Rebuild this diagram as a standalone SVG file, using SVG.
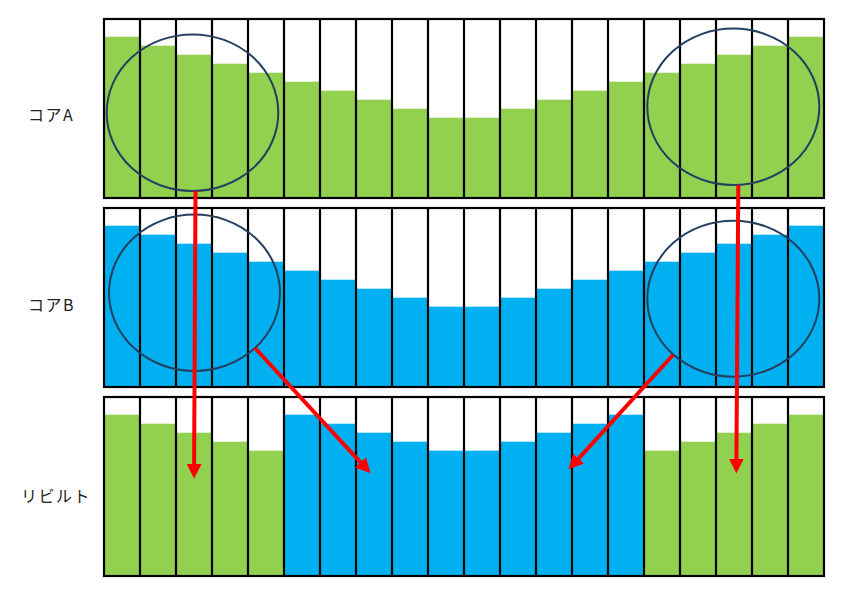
<svg xmlns="http://www.w3.org/2000/svg" xmlns:xlink="http://www.w3.org/1999/xlink" width="866" height="600" viewBox="0 0 866 600">
<style>
.g{fill:#92D050}
.b{fill:#00B0F0}
.frame{fill:none;stroke:#000;stroke-width:2.2}
.ell{fill:none;stroke:#243F60;stroke-width:2}
.arr{stroke:#FF0000;stroke-width:4;fill:none;marker-end:url(#ah)}
.lbl{font-family:"Noto Sans CJK JP","Noto Sans",sans-serif;font-size:16px;letter-spacing:1.5px;fill:#222}
</style>
<defs>
<marker id="ah" markerUnits="userSpaceOnUse" markerWidth="15" markerHeight="15" viewBox="0 0 14 14" refX="2" refY="7" orient="auto">
<path d="M0,0 L14,7 L0,14 z" fill="#FF0000"/>
</marker>
<g id="grid">
<rect class="frame" x="104" y="19" width="720" height="179"/>
<path class="frame" d="M140,19V198M176,19V198M212,19V198M248,19V198M284,19V198M320,19V198M356,19V198M392,19V198M428,19V198M464,19V198M500,19V198M536,19V198M572,19V198M608,19V198M644,19V198M680,19V198M716,19V198M752,19V198M788,19V198"/>
</g>
</defs>
<rect width="866" height="600" fill="#fff"/>
<g id="rowA">
<rect class="g" x="104" y="36.7" width="36" height="161.3"/>
<rect class="g" x="140" y="45.7" width="36" height="152.3"/>
<rect class="g" x="176" y="54.7" width="36" height="143.3"/>
<rect class="g" x="212" y="63.7" width="36" height="134.3"/>
<rect class="g" x="248" y="72.7" width="36" height="125.3"/>
<rect class="g" x="284" y="81.7" width="36" height="116.3"/>
<rect class="g" x="320" y="90.7" width="36" height="107.3"/>
<rect class="g" x="356" y="99.7" width="36" height="98.3"/>
<rect class="g" x="392" y="108.7" width="36" height="89.3"/>
<rect class="g" x="428" y="117.7" width="36" height="80.3"/>
<rect class="g" x="464" y="117.7" width="36" height="80.3"/>
<rect class="g" x="500" y="108.7" width="36" height="89.3"/>
<rect class="g" x="536" y="99.7" width="36" height="98.3"/>
<rect class="g" x="572" y="90.7" width="36" height="107.3"/>
<rect class="g" x="608" y="81.7" width="36" height="116.3"/>
<rect class="g" x="644" y="72.7" width="36" height="125.3"/>
<rect class="g" x="680" y="63.7" width="36" height="134.3"/>
<rect class="g" x="716" y="54.7" width="36" height="143.3"/>
<rect class="g" x="752" y="45.7" width="36" height="152.3"/>
<rect class="g" x="788" y="36.7" width="36" height="161.3"/>
<use xlink:href="#grid"/>
<text class="lbl" x="28" y="121">コアA</text>
</g>
<g id="rowB" transform="translate(0,189)">
<rect class="b" x="104" y="36.7" width="36" height="161.3"/>
<rect class="b" x="140" y="45.7" width="36" height="152.3"/>
<rect class="b" x="176" y="54.7" width="36" height="143.3"/>
<rect class="b" x="212" y="63.7" width="36" height="134.3"/>
<rect class="b" x="248" y="72.7" width="36" height="125.3"/>
<rect class="b" x="284" y="81.7" width="36" height="116.3"/>
<rect class="b" x="320" y="90.7" width="36" height="107.3"/>
<rect class="b" x="356" y="99.7" width="36" height="98.3"/>
<rect class="b" x="392" y="108.7" width="36" height="89.3"/>
<rect class="b" x="428" y="117.7" width="36" height="80.3"/>
<rect class="b" x="464" y="117.7" width="36" height="80.3"/>
<rect class="b" x="500" y="108.7" width="36" height="89.3"/>
<rect class="b" x="536" y="99.7" width="36" height="98.3"/>
<rect class="b" x="572" y="90.7" width="36" height="107.3"/>
<rect class="b" x="608" y="81.7" width="36" height="116.3"/>
<rect class="b" x="644" y="72.7" width="36" height="125.3"/>
<rect class="b" x="680" y="63.7" width="36" height="134.3"/>
<rect class="b" x="716" y="54.7" width="36" height="143.3"/>
<rect class="b" x="752" y="45.7" width="36" height="152.3"/>
<rect class="b" x="788" y="36.7" width="36" height="161.3"/>
<use xlink:href="#grid"/>
<text class="lbl" x="28" y="122">コアB</text>
</g>
<g id="rowR" transform="translate(0,378)">
<rect class="g" x="104" y="36.7" width="36" height="161.3"/>
<rect class="g" x="140" y="45.7" width="36" height="152.3"/>
<rect class="g" x="176" y="54.7" width="36" height="143.3"/>
<rect class="g" x="212" y="63.7" width="36" height="134.3"/>
<rect class="g" x="248" y="72.7" width="36" height="125.3"/>
<rect class="b" x="284" y="36.7" width="36" height="161.3"/>
<rect class="b" x="320" y="45.7" width="36" height="152.3"/>
<rect class="b" x="356" y="54.7" width="36" height="143.3"/>
<rect class="b" x="392" y="63.7" width="36" height="134.3"/>
<rect class="b" x="428" y="72.7" width="36" height="125.3"/>
<rect class="b" x="464" y="72.7" width="36" height="125.3"/>
<rect class="b" x="500" y="63.7" width="36" height="134.3"/>
<rect class="b" x="536" y="54.7" width="36" height="143.3"/>
<rect class="b" x="572" y="45.7" width="36" height="152.3"/>
<rect class="b" x="608" y="36.7" width="36" height="161.3"/>
<rect class="g" x="644" y="72.7" width="36" height="125.3"/>
<rect class="g" x="680" y="63.7" width="36" height="134.3"/>
<rect class="g" x="716" y="54.7" width="36" height="143.3"/>
<rect class="g" x="752" y="45.7" width="36" height="152.3"/>
<rect class="g" x="788" y="36.7" width="36" height="161.3"/>
<use xlink:href="#grid"/>
<text class="lbl" x="21" y="124">リビルト</text>
</g>
<g id="circles">
<ellipse id="cA1" class="ell" cx="192.5" cy="112.7" rx="85.8" ry="78.3"/>
<ellipse id="cB1" class="ell" cx="194.5" cy="292.8" rx="85.5" ry="78.2"/>
<ellipse id="cA2" class="ell" cx="733.3" cy="106.8" rx="86" ry="78.2"/>
<ellipse id="cB2" class="ell" cx="733.3" cy="298.7" rx="86" ry="78"/>
</g>
<g id="connectors">
<path class="arr" d="M195.5,191 L194.1,466"/>
<path class="arr" d="M255,348 L361.9,463.9"/>
<path class="arr" d="M673,355 L577.1,460.1"/>
<path class="arr" d="M738.3,185 L736.4,460.7"/>
</g>
</svg>
